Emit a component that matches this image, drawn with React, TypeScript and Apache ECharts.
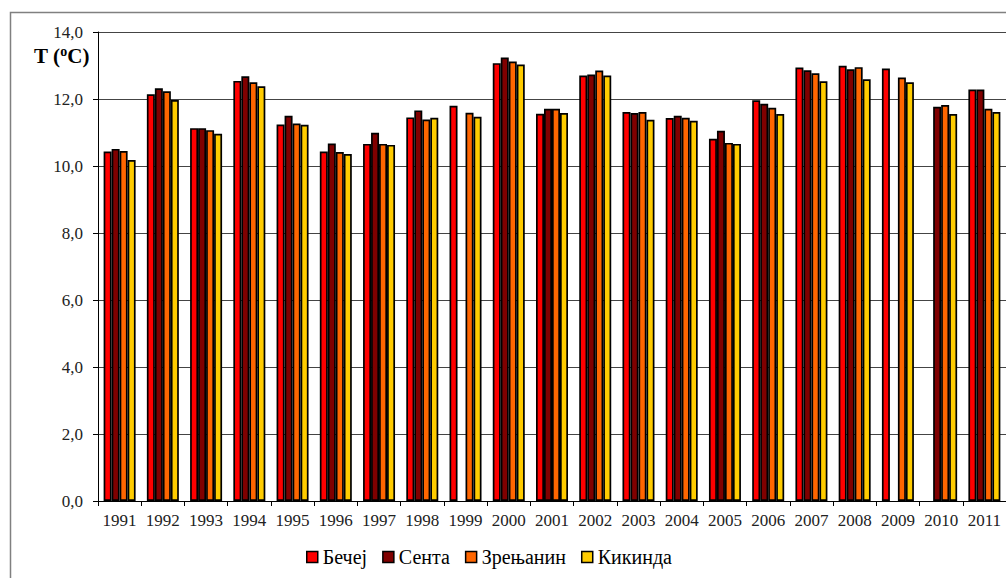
import React, { useEffect, useRef } from "react";
import * as echarts from "echarts";

const years = ["1991","1992","1993","1994","1995","1996","1997","1998","1999","2000","2001","2002","2003","2004","2005","2006","2007","2008","2009","2010","2011"];
const becej = [10.43,12.14,11.13,12.54,11.24,10.43,10.66,11.45,11.80,13.07,11.56,12.70,11.61,11.43,10.81,11.96,12.94,12.99,12.91,null,12.28];
const senta = [10.51,12.32,11.13,12.68,11.50,10.67,10.99,11.66,null,13.24,11.71,12.73,11.58,11.50,11.05,11.86,12.86,12.89,null,11.77,12.28];
const zrenjanin = [10.45,12.23,11.07,12.50,11.27,10.42,10.66,11.39,11.59,13.12,11.71,12.85,11.61,11.44,10.69,11.74,12.77,12.95,12.64,11.82,11.71];
const kikinda = [10.18,11.97,10.96,12.38,11.23,10.36,10.63,11.44,11.47,13.03,11.58,12.70,11.38,11.35,10.66,11.55,12.53,12.59,12.50,11.55,11.61];
const seriesNames = ["Бечеј","Сента","Зрењанин","Кикинда"];
const colors = ["#FF0000","#800000","#FF6600","#FFCC00"];

export default function App() {
  const ref = useRef<HTMLDivElement>(null);
  useEffect(() => {
    if (!ref.current) return;
    const chart = echarts.init(ref.current, undefined, { renderer: "svg" });
    const font = "Liberation Serif";
    const datas = [becej, senta, zrenjanin, kikinda];
    chart.setOption({
      animation: false,
      textStyle: { fontFamily: font },
      graphic: [
        {
          type: "rect",
          shape: { x: 10.5, y: 12.5, width: 1100, height: 700 },
          style: { fill: "none", stroke: "#808080", lineWidth: 1.5 },
          z: -1,
        },
        {
          type: "text",
          x: 34,
          y: 44,
          style: {
            text: "{a|T (}{b|o}{a|C)}",
            rich: {
              a: { fontFamily: font, fontSize: 21, fontWeight: "bold", fill: "#000", verticalAlign: "bottom" },
              b: { fontFamily: font, fontSize: 14, fontWeight: "bold", fill: "#000", verticalAlign: "top", padding: [0, 0, 8, 0] },
            },
          },
        },
      ],
      legend: {
        data: seriesNames,
        bottom: 6,
        left: 301,
        itemWidth: 11,
        itemHeight: 11,
        itemGap: 15,
        icon: "rect",
        itemStyle: { borderColor: "#000", borderWidth: 1.5 },
        textStyle: { fontFamily: font, fontSize: 20, color: "#000" },
      },
      grid: { left: 98, top: 32, width: 911, height: 469, containLabel: false },
      xAxis: {
        type: "category",
        data: years,
        axisLine: { lineStyle: { color: "#000", width: 1 } },
        axisTick: { show: true, length: 5, lineStyle: { color: "#000" } },
        axisLabel: { fontFamily: font, fontSize: 17, color: "#222", margin: 11, interval: 0 },
      },
      yAxis: {
        type: "value",
        min: 0,
        max: 14,
        interval: 2,
        axisLine: { show: true, lineStyle: { color: "#000", width: 1 } },
        axisTick: { show: true, length: 5, lineStyle: { color: "#000" } },
        axisLabel: {
          fontFamily: font,
          fontSize: 17,
          color: "#222",
          margin: 15,
          formatter: (v: number) => v.toFixed(1).replace(".", ","),
        },
        splitLine: { show: true, lineStyle: { color: "#444", width: 1 } },
      },
      series: seriesNames.map((name, i) => ({
        name,
        type: "bar",
        data: datas[i],
        barGap: "0%",
        barCategoryGap: "26%",
        itemStyle: { color: colors[i], borderColor: "#000", borderWidth: 1.7 },
      })),
    });
    return () => chart.dispose();
  }, []);
  return (
    <div
      ref={ref}
      style={{ position: "absolute", left: 0, top: 0, width: 1006, height: 578, background: "#fff" }}
    />
  );
}
